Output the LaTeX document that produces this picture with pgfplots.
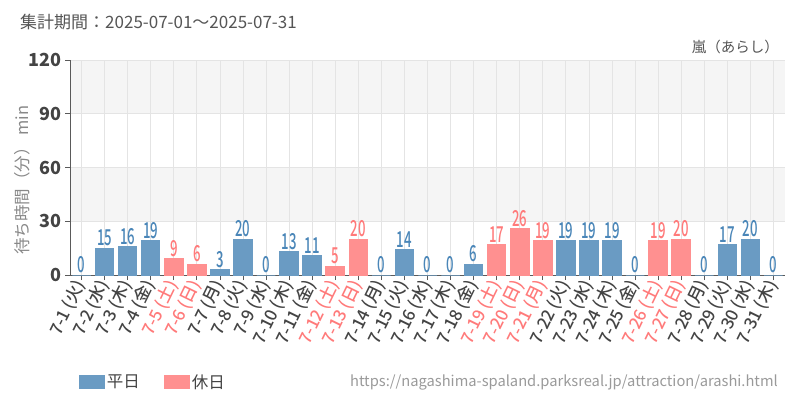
\documentclass[border=0pt]{standalone}
\usepackage{pgfplots}
\usepackage{pgfplotstable}
\pgfplotsset{compat=1.18}
\usepackage{fontspec}
\setmainfont{Noto Sans CJK JP}
\newfontfamily\medfont{Noto Sans CJK JP Medium}

\definecolor{wblue}{HTML}{6A9BC3}
\definecolor{wlab}{HTML}{4A86B8}
\definecolor{hpink}{HTML}{FF9090}
\definecolor{hlab}{HTML}{FF7A7A}
\definecolor{band}{HTML}{F5F5F5}
\definecolor{gridc}{HTML}{E4E4E4}
\definecolor{axisc}{HTML}{5A5A5A}
\definecolor{tickc}{HTML}{444444}
\definecolor{titlec}{HTML}{555555}
\definecolor{labc}{HTML}{888888}
\definecolor{urlc}{HTML}{9A9A9A}

% weekday bars
\pgfplotstableread{
x y
1 0
2 15
3 16
4 19
7 3
8 20
9 0
10 13
11 11
14 0
15 14
16 0
17 0
18 6
22 19
23 19
24 19
25 0
28 0
29 17
30 20
31 0
}\weekday

% holiday bars
\pgfplotstableread{
x y
5 9
6 6
12 5
13 20
19 17
20 26
21 19
26 19
27 20
}\holiday

\newcommand{\hd}[1]{\textcolor{hlab}{#1}}

\begin{document}
\begin{tikzpicture}
\useasboundingbox (0pt,0pt) rectangle (800pt,400pt);

% background bands 30-60 and 90-120
\fill[band] (70pt,178.75pt) rectangle (785pt,232.5pt);
\fill[band] (70pt,286.25pt) rectangle (785pt,340pt);

\node[anchor=west, inner sep=0pt, text=titlec, font=\fontsize{17}{17}\selectfont]
  at (20pt,378pt) {集計期間：2025-07-01～2025-07-31};
\node[anchor=east, inner sep=0pt, text=titlec, font=\fontsize{14.5}{14.5}\selectfont]
  at (779pt,353pt) {嵐（あらし）};
\node[anchor=east, inner sep=0pt, text=urlc, font=\fontsize{14.7}{14.7}\selectfont]
  at (778pt,18pt) {https://nagashima-spaland.parksreal.jp/attraction/arashi.html};

\begin{axis}[
  at={(70pt,125pt)}, anchor=south west,
  scale only axis, width=715pt, height=215pt,
  xmin=0.5, xmax=31.5, ymin=0, ymax=120,
  ytick={0,30,60,90,120},
  xtick={1,...,31},
  xticklabels={7-1 (火),7-2 (水),7-3 (木),7-4 (金),\hd{7-5 (土)},\hd{7-6 (日)},
    7-7 (月),7-8 (火),7-9 (水),7-10 (木),7-11 (金),\hd{7-12 (土)},\hd{7-13 (日)},
    7-14 (月),7-15 (火),7-16 (水),7-17 (木),7-18 (金),\hd{7-19 (土)},\hd{7-20 (日)},
    \hd{7-21 (月)},7-22 (火),7-23 (水),7-24 (木),7-25 (金),\hd{7-26 (土)},\hd{7-27 (日)},
    7-28 (月),7-29 (火),7-30 (水),7-31 (木)},
  axis lines*=left,
  axis line style={-, draw=axisc, line width=1pt},
  tick align=outside, major tick length=5pt,
  tick style={draw=axisc, line width=0.8pt},
  grid=major, major grid style={draw=gridc, line width=0.8pt},
  /pgf/number format/assume math mode=true,
  yticklabel style={font=\fontsize{18}{18}\selectfont\bfseries, text=tickc},
  xticklabel style={rotate=64, anchor=east, inner sep=1.5pt,
    font=\fontsize{17}{17}\medfont, text=tickc},
  ylabel={待ち時間（分） min},
  ylabel style={at={(axis description cs:-0.067,0.442)}, anchor=center,
    font=\fontsize{16.5}{16.5}\selectfont, text=labc},
  legend style={at={(axis description cs:0.012,-0.498)}, anchor=west,
    draw=none, fill=none, inner sep=0pt, legend columns=2,
    font=\fontsize{16.5}{16.5}\selectfont, text=tickc,
    /tikz/every even column/.append style={column sep=22pt}},
  legend image code/.code={\fill[#1] (0pt,-6.5pt) rectangle (25pt,6.5pt);},
  clip=false,
]
\addplot[ybar, bar width=18.5pt, bar shift=0pt, fill=wblue, draw=wblue, line width=1pt,
  nodes near coords={\scalebox{0.6}[1]{\pgfmathprintnumber{\pgfplotspointmeta}}},
  every node near coord/.append style={text=wlab, inner sep=1.5pt,
    font=\fontsize{22}{22}\medfont}]
  table[x=x, y=y] {\weekday};
\addlegendentry{平日}

\addplot[ybar, bar width=18.5pt, bar shift=0pt, fill=hpink, draw=hpink, line width=1pt,
  nodes near coords={\scalebox{0.6}[1]{\pgfmathprintnumber{\pgfplotspointmeta}}},
  every node near coord/.append style={text=hlab, inner sep=1.5pt,
    font=\fontsize{22}{22}\medfont}]
  table[x=x, y=y] {\holiday};
\addlegendentry{休日}
\end{axis}
\end{tikzpicture}
\end{document}
